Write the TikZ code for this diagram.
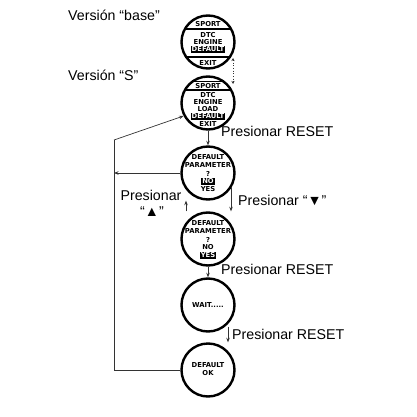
\documentclass[tikz,border=0pt]{standalone}
\usepackage{fontspec}
\setmainfont{Liberation Sans}
\newfontfamily\lcd{DejaVu Sans}
\usetikzlibrary{arrows.meta,calc}
\begin{document}
\begin{tikzpicture}[x=1pt,y=-1pt,
  disp/.style={circle,draw,line width=2.4pt,minimum size=53pt,inner sep=0pt},
  lbl/.style={font=\fontsize{14.2}{16}\selectfont,inner sep=0pt},
  lcdt/.style={font=\lcd\bfseries\fontsize{6.8}{7}\selectfont,inner sep=0pt},
  inv/.style={lcdt,fill=black,text=white,inner xsep=1pt,inner ysep=0.7pt},
  chord/.style={line width=1.1pt},
  arr/.style={-{Stealth[length=4.5pt,width=3.5pt]},line width=0.7pt,draw=black!80},
  thin/.style={line width=0.7pt,draw=black!80}]
\useasboundingbox (0,0) rectangle (416,417);

% circles
\node[disp] (c1) at (208,42) {};
\node[disp] (c2) at (208,103) {};
\node[disp] (c3) at (208,173) {};
\node[disp] (c4) at (208,239) {};
\node[disp] (c5) at (208,305) {};
\node[disp] (c6) at (208,370) {};

% circle 1 contents
\begin{scope}
  \clip (c1) circle (26pt);
  \draw[chord] ($(c1)+(-30,-13)$) -- ($(c1)+(30,-13)$);
  \draw[chord] ($(c1)+(-30,15)$) -- ($(c1)+(30,15)$);
\end{scope}
\node[lcdt] (c1a) at ($(c1)+(0,-17.5)$) {SPORT};
\node[lcdt] (c1b) at ($(c1)+(0,-7)$) {DTC};
\node[lcdt] (c1c) at ($(c1)+(0,0)$) {ENGINE};
\node[inv]  (c1d) at ($(c1)+(0,7.5)$) {DEFAULT};
\node[lcdt] (c1e) at ($(c1)+(0,21)$) {EXIT};

% circle 2 contents
\begin{scope}
  \clip (c2) circle (26pt);
  \draw[chord] ($(c2)+(-30,-21.5)$) -- ($(c2)+(30,-21.5)$);
  \draw[chord] ($(c2)+(-30,-13)$) -- ($(c2)+(30,-13)$);
  \node[lcdt] (c2e) at ($(c2)+(0,21)$) {EXIT};
\end{scope}
\node[lcdt] (c2a) at ($(c2)+(0,-17.2)$) {SPORT};
\node[lcdt] (c2b) at ($(c2)+(0,-8)$) {DTC};
\node[lcdt] (c2c) at ($(c2)+(0,-1)$) {ENGINE};
\node[lcdt] (c2d) at ($(c2)+(0,6)$) {LOAD};
\node[inv]  (c2f) at ($(c2)+(0,13.5)$) {DEFAULT};

% circle 3 contents
\node[lcdt] (c3a) at ($(c3)+(0,-16)$) {DEFAULT};
\node[lcdt] (c3b) at ($(c3)+(0,-8)$) {PARAMETER};
\node[lcdt] (c3c) at ($(c3)+(0,0.5)$) {?};
\node[inv]  (c3d) at ($(c3)+(0,8.5)$) {NO};
\node[lcdt] (c3e) at ($(c3)+(0,16.5)$) {YES};

% circle 4 contents
\node[lcdt] (c4a) at ($(c4)+(0,-16)$) {DEFAULT};
\node[lcdt] (c4b) at ($(c4)+(0,-8)$) {PARAMETER};
\node[lcdt] (c4c) at ($(c4)+(0,0.5)$) {?};
\node[lcdt] (c4d) at ($(c4)+(0,8.5)$) {NO};
\node[inv]  (c4e) at ($(c4)+(0,16.5)$) {YES};

% circle 5, 6 contents
\node[lcdt] (c5a) at (c5) {WAIT.....};
\node[lcdt] (c6a) at ($(c6)+(0,-5)$) {DEFAULT};
\node[lcdt] (c6b) at ($(c6)+(0,3.5)$) {OK};

% labels
\node[lbl,anchor=west] (vbase) at (68,15) {Versión “base”};
\node[lbl,anchor=west] (vs) at (68,75) {Versión “S”};
\node[lbl,anchor=west] (p1) at (221,131) {Presionar RESET};
\node[lbl,anchor=west] (pdown) at (238,200) {Presionar “▼”};
\node[lbl] (pup1) at (151,195) {Presionar};
\node[lbl] (pup2) at (152,212) {“▲”};
\node[lbl,anchor=west] (p2) at (221,269) {Presionar RESET};
\node[lbl,anchor=west] (p3) at (232,334) {Presionar RESET};

% coordinates
\coordinate (dtop) at ($(c1)+(25,16)$);
\coordinate (dbot) at ($(c2)+(25,-19)$);
\coordinate (ltop) at (114,140);
\coordinate (ux) at (186,0);
\coordinate (dx) at (231,0);
\coordinate (rx) at (228,0);

% connectors
\draw[thin,dotted,line width=0.8pt,{Stealth[length=3pt,width=3pt]}-{Stealth[length=3pt,width=3pt]}] (dtop) -- (dbot);
\draw[arr] (c2.south) -- (c3.north);
\draw[arr] (dx |- c3e.north) -- (dx |- c4.north);
\draw[arr] (ux |- c4.north) -- (ux |- c3.south);
\draw[arr] (c4.south) -- (c5.north);
\draw[arr] (rx |- c5a.south) ++(0,19) -- (rx |- c6.north);
\draw[thin] (c6.west) -- (c6.west -| ltop) -- (ltop);
\draw[arr] (ltop) -- (c2.208);
\draw[arr] (c3.west) -- (c3.west -| ltop);
\end{tikzpicture}
\end{document}
